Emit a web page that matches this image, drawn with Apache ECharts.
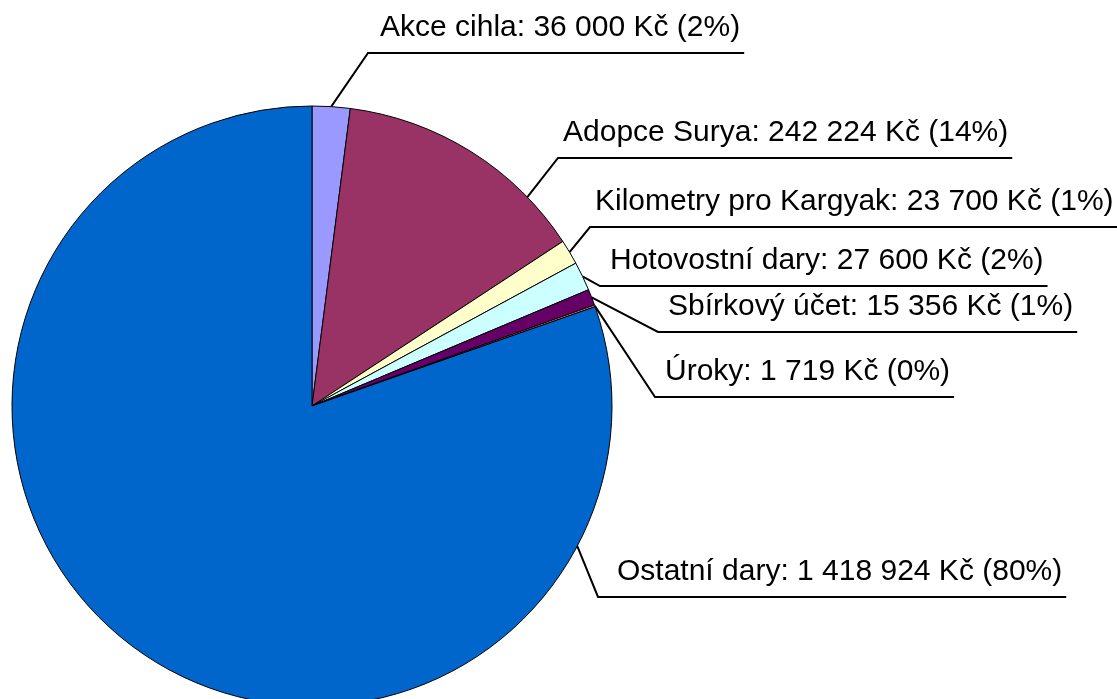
<!DOCTYPE html>
<html>
<head>
<meta charset="utf-8">
<script src="https://cdn.jsdelivr.net/npm/echarts@6/dist/echarts.min.js"></script>
<style>
html,body{margin:0;padding:0;background:#fff;}
#chart{width:1117px;height:699px;}
</style>
</head>
<body>
<div id="chart"></div>
<script>
// ---- data ----
const categories = ['Akce cihla', 'Adopce Surya', 'Kilometry pro Kargyak', 'Hotovostní dary', 'Sbírkový účet', 'Úroky', 'Ostatní dary'];
const values = [36000, 242224, 23700, 27600, 15356, 1719, 1418924];
const currency = 'Kč';

// ---- styling / layout (not data) ----
const colors = ['#9999FF', '#993366', '#FFFFCC', '#CCFFFF', '#660066', '#FF8080', '#0066CC'];
// label placement: text left x, underline y, underline start x, leader anchor fraction within slice
const labelPlacement = [
  {tx: 380, uy: 53,  lx: 368, f: 0.5},
  {tx: 563, uy: 158, lx: 558, f: 0.78},
  {tx: 595, uy: 227, lx: 590, f: 0.5},
  {tx: 610, uy: 286, lx: 600, f: 0.5},
  {tx: 668, uy: 332, lx: 658, f: 0.5},
  {tx: 665, uy: 397, lx: 655, f: 0.5},
  {tx: 617, uy: 597, lx: 598, f: 0.163}
];

const total = values.reduce((a, b) => a + b, 0);
function fmt(n) { return String(n).replace(/\B(?=(\d{3})+(?!\d))/g, ' '); }

const chart = echarts.init(document.getElementById('chart'), null, {renderer: 'canvas'});

chart.setOption({
  animation: false,
  backgroundColor: '#ffffff',
  series: [{
    type: 'pie',
    center: [312, 406],
    radius: 300,
    startAngle: 90,
    clockwise: true,
    avoidLabelOverlap: false,
    minShowLabelAngle: 0,
    data: categories.map((c, i) => ({name: c, value: values[i], itemStyle: {color: colors[i]}})),
    itemStyle: {borderColor: '#000000', borderWidth: 1},
    emphasis: {disabled: true},
    label: {
      show: true,
      position: 'outside',
      color: '#000000',
      fontFamily: '"Liberation Sans", Arial, sans-serif',
      fontSize: 30,
      lineHeight: 30,
      formatter: p => p.name + ': ' + fmt(p.value) + ' ' + currency + ' (' + Math.round(p.value / total * 100) + '%)'
    },
    labelLine: {show: true, length: 20, length2: 20, lineStyle: {color: '#000000', width: 2}},
    labelLayout: function (params) {
      const i = params.dataIndex;
      const pl = labelPlacement[i];
      const lay = chart.getModel().getSeriesByIndex(0).getData().getItemLayout(i);
      const a = lay.startAngle + (lay.endAngle - lay.startAngle) * pl.f;
      const sx = lay.cx + lay.r * Math.cos(a);
      const sy = lay.cy + lay.r * Math.sin(a);
      const w = params.labelRect.width;
      return {
        x: pl.tx,
        y: pl.uy - 10,
        align: 'left',
        verticalAlign: 'bottom',
        labelLinePoints: [[sx, sy], [pl.lx, pl.uy], [pl.tx + w + 4, pl.uy]]
      };
    }
  }]
});
</script>
</body>
</html>
